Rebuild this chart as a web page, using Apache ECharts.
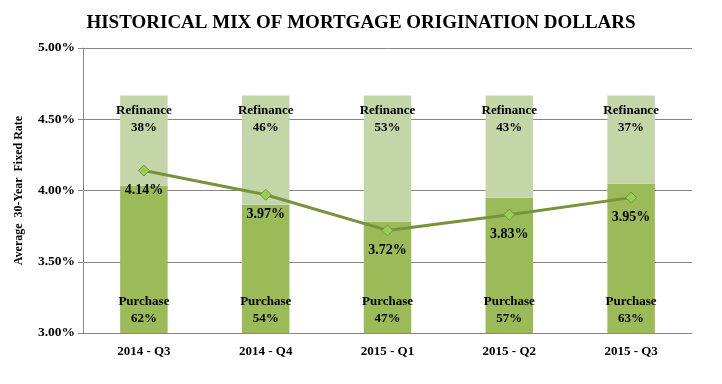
<!DOCTYPE html>
<html><head><meta charset="utf-8">
<script src="https://cdn.jsdelivr.net/npm/echarts@6/dist/echarts.min.js"></script>
<style>html,body{margin:0;padding:0;background:#fff}#c{width:722px;height:384px}</style>
</head><body><div id="c"></div>
<script>
var categories = ['2014 - Q3','2014 - Q4','2015 - Q1','2015 - Q2','2015 - Q3'];
var purchase = [62,54,47,57,63];
var refinance = [38,46,53,43,37];
var rate = [4.14,3.97,3.72,3.83,3.95];
var font = '"Liberation Serif","Times New Roman",serif';
var chart = echarts.init(document.getElementById('c'));
chart.setOption({
  animation:false,
  backgroundColor:'#fff',
  title:{text:'HISTORICAL MIX OF MORTGAGE ORIGINATION DOLLARS',left:'center',top:9,
    textStyle:{fontFamily:font,fontSize:19,fontWeight:'bold',color:'#000'}},
  grid:{left:83,right:30,top:48,bottom:51},
  xAxis:{type:'category',data:categories,
    axisLine:{lineStyle:{color:'#868686'}},axisTick:{show:false},
    axisLabel:{fontFamily:font,fontWeight:'bold',fontSize:13,color:'#000',margin:12}},
  yAxis:[{type:'value',min:3,max:5,interval:0.5,
    name:'Average  30-Year  Fixed Rate',nameLocation:'middle',nameGap:58,nameRotate:90,
    nameTextStyle:{fontFamily:font,fontWeight:'bold',fontSize:12,color:'#000'},
    axisLine:{show:true,lineStyle:{color:'#868686'}},
    axisTick:{show:true,length:5,lineStyle:{color:'#868686'}},
    splitLine:{lineStyle:{color:'#868686'}},
    axisLabel:{fontFamily:font,fontWeight:'bold',fontSize:13.5,color:'#000',
      formatter:function(v){return v.toFixed(2)+'%';}}},
    {type:'value',min:0,max:120,show:false,splitLine:{show:false}}],
  series:[
    {type:'bar',name:'Purchase',yAxisIndex:1,stack:'s',data:purchase,barWidth:'39%',
      itemStyle:{color:'#9BBB59'},
      label:{show:true,position:'insideBottom',distance:6,fontFamily:font,fontWeight:'bold',fontSize:13,color:'#000',lineHeight:17,
        formatter:function(p){return 'Purchase\n'+p.value+'%';}}},
    {type:'bar',name:'Refinance',yAxisIndex:1,stack:'s',data:refinance,barWidth:'39%',
      itemStyle:{color:'#C4D6A8'},
      label:{show:true,position:'insideTop',distance:7,fontFamily:font,fontWeight:'bold',fontSize:13,color:'#000',lineHeight:17,
        formatter:function(p){return 'Refinance\n'+p.value+'%';}}},
    {type:'line',name:'Rate',yAxisIndex:0,data:rate,symbol:'diamond',symbolSize:11,
      lineStyle:{color:'#77933C',width:3},
      itemStyle:{color:'#9BCB59',borderColor:'#77933C',borderWidth:1},
      label:{show:true,position:'bottom',distance:7,fontFamily:font,fontWeight:'bold',fontSize:14,color:'#000',
        formatter:function(p){return p.value.toFixed(2)+'%';}},z:5}
  ]
});
</script></body></html>
